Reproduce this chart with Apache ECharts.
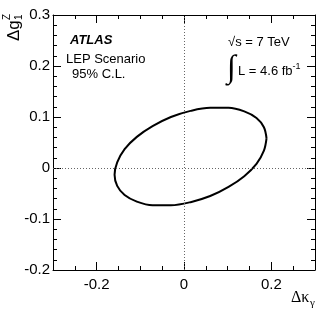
<!DOCTYPE html>
<html>
<head>
<meta charset="utf-8">
<script src="https://cdn.jsdelivr.net/npm/echarts@6/dist/echarts.min.js"></script>
<style>
  html, body { margin: 0; padding: 0; background: #fff; }
  #chart { width: 332px; height: 322px; }
</style>
</head>
<body>
<div id="chart"></div>
<script>
// 95% C.L. contour (delta kappa_gamma, delta g1^Z)
const kappaVals = [0.189, 0.183, 0.166, 0.138, 0.102, 0.060, 0.015, -0.030, -0.072, -0.108, -0.136, -0.153,
  -0.159, -0.153, -0.136, -0.108, -0.072, -0.030, 0.015, 0.060, 0.102, 0.138, 0.166, 0.183, 0.189];
const g1Vals = [0.058, 0.080, 0.098, 0.111, 0.118, 0.118, 0.112, 0.100, 0.082, 0.061, 0.037, 0.011,
  -0.013, -0.035, -0.053, -0.066, -0.073, -0.073, -0.067, -0.055, -0.037, -0.016, 0.008, 0.034, 0.058];
const xMajorTicks = [-0.2, 0, 0.2];
const xRange = [-0.3, 0.3];
const yRange = [-0.2, 0.3];

const myChart = echarts.init(document.getElementById('chart'));

const sans = '"Liberation Sans", Arial, sans-serif';
const serif = '"Liberation Serif", "Times New Roman", serif';
const black = '#000';
const fmt = v => (Math.abs(v) < 1e-9 ? '0' : v.toFixed(1));

const contour = kappaVals.map((k, i) => [k, g1Vals[i]]);

// x axes: minor ticks every 0.05, long ticks + labels only at the majors
function xAx(pos, major, labels) {
  return {
    type: 'value', position: pos, min: xRange[0], max: xRange[1], interval: 0.05,
    axisLine: { show: !major, onZero: false, lineStyle: { color: black, width: 1 } },
    axisTick: major
      ? { show: true, inside: true, length: 8, customValues: xMajorTicks, lineStyle: { color: black } }
      : { show: true, inside: true, length: 4, lineStyle: { color: black } },
    axisLabel: labels
      ? { show: true, customValues: xMajorTicks, formatter: fmt, color: black, fontSize: 15, fontFamily: sans, margin: 7 }
      : { show: false },
    splitLine: { show: false }
  };
}
function yAx(pos, labels) {
  return {
    type: 'value', position: pos, min: yRange[0], max: yRange[1], interval: 0.1,
    axisLine: { show: true, onZero: false, lineStyle: { color: black, width: 1 } },
    axisTick: { show: true, inside: true, length: 8, lineStyle: { color: black } },
    minorTick: { show: true, splitNumber: 5, length: 4, lineStyle: { color: black } },
    axisLabel: labels
      ? { show: true, formatter: fmt, color: black, fontSize: 15, fontFamily: sans, margin: 3 }
      : { show: false },
    splitLine: { show: false }
  };
}

const option = {
  animation: false,
  backgroundColor: '#fff',
  grid: { left: 53, right: 17, top: 15, bottom: 52, containLabel: false },
  xAxis: [xAx('bottom', false, true), xAx('bottom', true, false), xAx('top', false, false), xAx('top', true, false)],
  yAxis: [yAx('left', true), yAx('right', false)],
  series: [{
    type: 'line',
    data: contour,
    smooth: 0.35,
    showSymbol: false,
    lineStyle: { color: black, width: 2 },
    markLine: {
      silent: true,
      symbol: ['none', 'none'],
      label: { show: false },
      lineStyle: { color: '#666', width: 1, type: [1, 2] },
      data: [{ xAxis: 0 }, { yAxis: 0 }]
    }
  }],
  graphic: [
    { type: 'text', x: 70, y: 40, style: { text: 'ATLAS', fontSize: 13, fontStyle: 'italic', fontWeight: 'bold', fontFamily: sans, fill: black, verticalAlign: 'middle' } },
    { type: 'text', x: 66, y: 59, style: { text: 'LEP Scenario', fontSize: 13, fontFamily: sans, fill: black, verticalAlign: 'middle' } },
    { type: 'text', x: 72, y: 74, style: { text: '95% C.L.', fontSize: 13, fontFamily: sans, fill: black, verticalAlign: 'middle' } },
    { type: 'text', x: 228, y: 42, style: { text: '\u221As = 7 TeV', fontSize: 13, fontFamily: sans, fill: black, verticalAlign: 'middle' } },
    { type: 'text', x: 227, y: 69, style: { text: '\u222B', fontSize: 32, fontFamily: serif, fill: black, verticalAlign: 'middle' } },
    { type: 'text', x: 238, y: 71, style: {
        text: '{a|L = 4.6 fb}{s|-1}', verticalAlign: 'middle',
        rich: { a: { fontSize: 13, fontFamily: sans, fill: black }, s: { fontSize: 9, fontFamily: sans, fill: black, verticalAlign: 'top', padding: [0, 0, 8, 0] } } } },
    { type: 'group', x: 14, y: 41, rotation: Math.PI / 2, children: [
      { type: 'text', x: 0, y: 0, style: { text: '\u0394g', fontSize: 17, fontFamily: sans, fill: black, verticalAlign: 'middle' } },
      { type: 'text', x: 21, y: -7, style: { text: 'Z', fontSize: 10, fontFamily: sans, fill: black, verticalAlign: 'middle' } },
      { type: 'text', x: 21, y: 5, style: { text: '1', fontSize: 10, fontFamily: sans, fill: black, verticalAlign: 'middle' } }
    ] },
    { type: 'text', x: 291, y: 298, style: { text: '\u0394\u03BA', fontSize: 16, fontFamily: serif, fill: black, verticalAlign: 'middle' } },
    { type: 'text', x: 310, y: 303, style: { text: '\u03B3', fontSize: 11, fontFamily: serif, fill: black, verticalAlign: 'middle' } }
  ]
};

myChart.setOption(option);
</script>
</body>
</html>
